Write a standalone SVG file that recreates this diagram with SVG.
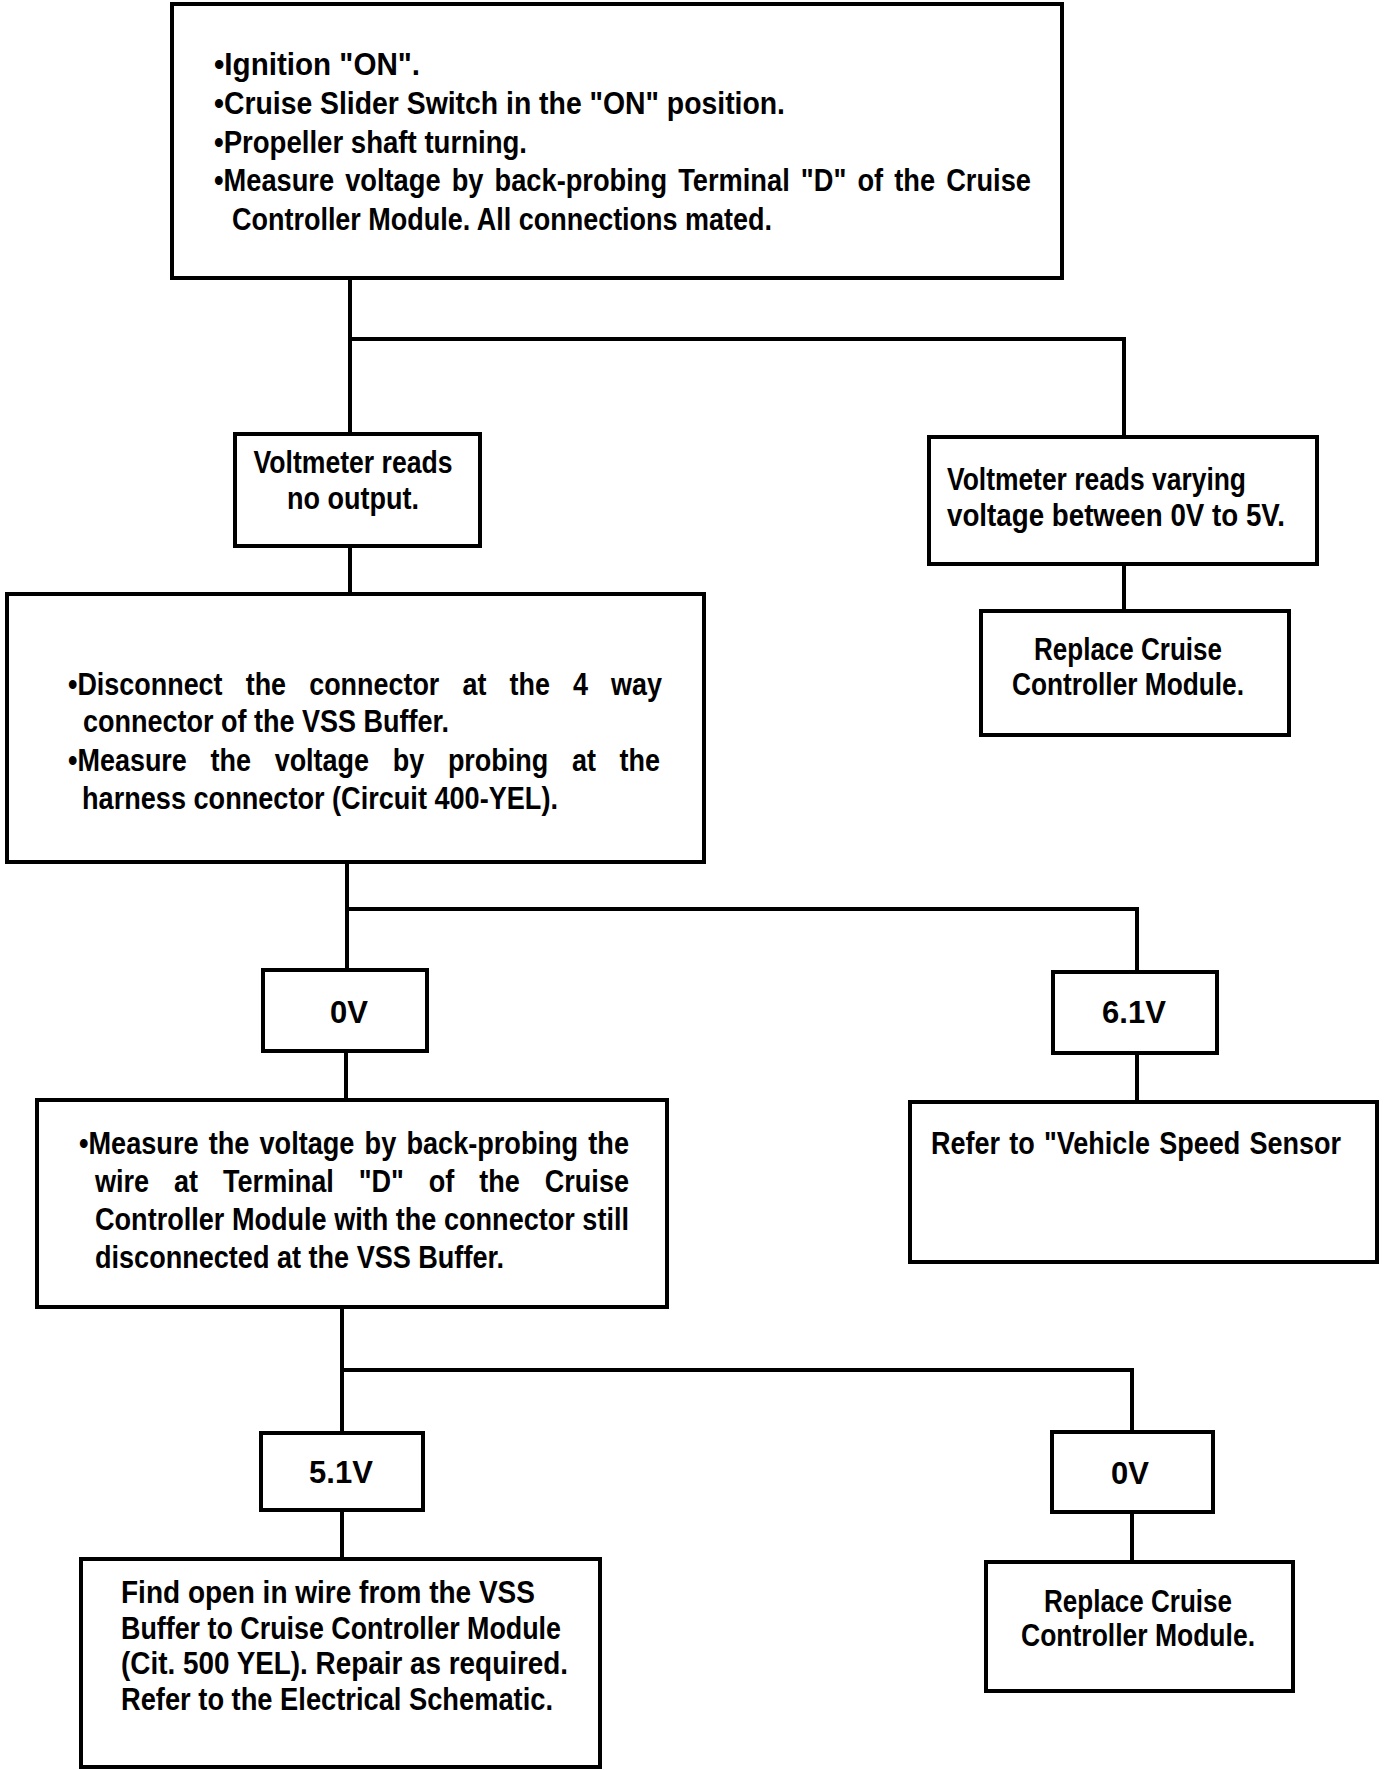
<svg xmlns="http://www.w3.org/2000/svg" width="1392" height="1770" viewBox="0 0 1392 1770">
<style>
.box{fill:#fff;stroke:#000;stroke-width:4}
.conn{fill:none;stroke:#000;stroke-width:4;stroke-linecap:square}
.t{font-family:"Liberation Sans",Arial,sans-serif;font-weight:bold;font-size:31px;fill:#000}
.c{text-anchor:middle}
</style>
<rect x="0" y="0" width="1392" height="1770" fill="#fff"/>
<g id="connectors">
<path class="conn" d="M350,278 V434 M350,339 H1124 V437"/>
<path class="conn" d="M1124,564 V611"/>
<path class="conn" d="M350,546 V594"/>
<path class="conn" d="M347,862 V970 M347,909 H1137 V972"/>
<path class="conn" d="M346,1051 V1100"/>
<path class="conn" d="M1137,1053 V1102"/>
<path class="conn" d="M342,1307 V1433 M342,1370 H1132 V1432"/>
<path class="conn" d="M342,1510 V1559"/>
<path class="conn" d="M1132,1512 V1562"/>
</g>
<g id="start">
<rect class="box" x="172" y="4" width="890" height="274"/>
<text class="t" x="214" y="75" textLength="206" lengthAdjust="spacingAndGlyphs">•Ignition "ON".</text>
<text class="t" x="214" y="114" textLength="571" lengthAdjust="spacingAndGlyphs">•Cruise Slider Switch in the "ON" position.</text>
<text class="t" x="214" y="153" textLength="313" lengthAdjust="spacingAndGlyphs">•Propeller shaft turning.</text>
<text class="t" x="214" y="191" word-spacing="4" textLength="817" lengthAdjust="spacingAndGlyphs">•Measure voltage by back-probing Terminal "D" of the Cruise</text>
<text class="t" x="232" y="230" textLength="540" lengthAdjust="spacingAndGlyphs">Controller Module. All connections mated.</text>
</g>
<g id="no-output">
<rect class="box" x="235" y="434" width="245" height="112"/>
<text class="t c" x="353" y="473" textLength="199" lengthAdjust="spacingAndGlyphs">Voltmeter reads</text>
<text class="t c" x="353" y="509" textLength="132" lengthAdjust="spacingAndGlyphs">no output.</text>
</g>
<g id="varying">
<rect class="box" x="929" y="437" width="388" height="127"/>
<text class="t" x="947" y="490" textLength="299" lengthAdjust="spacingAndGlyphs">Voltmeter reads varying</text>
<text class="t" x="947" y="526" textLength="338" lengthAdjust="spacingAndGlyphs">voltage between 0V to 5V.</text>
</g>
<g id="replace-1">
<rect class="box" x="981" y="611" width="308" height="124"/>
<text class="t c" x="1128" y="660" textLength="188" lengthAdjust="spacingAndGlyphs">Replace Cruise</text>
<text class="t c" x="1128" y="695" textLength="232" lengthAdjust="spacingAndGlyphs">Controller Module.</text>
</g>
<g id="disconnect">
<rect class="box" x="7" y="594" width="697" height="268"/>
<text class="t" x="68" y="695" word-spacing="18" textLength="594" lengthAdjust="spacingAndGlyphs">•Disconnect the connector at the 4 way</text>
<text class="t" x="83" y="732" textLength="366" lengthAdjust="spacingAndGlyphs">connector of the VSS Buffer.</text>
<text class="t" x="68" y="771" word-spacing="18.6" textLength="592" lengthAdjust="spacingAndGlyphs">•Measure the voltage by probing at the</text>
<text class="t" x="82" y="809" textLength="476" lengthAdjust="spacingAndGlyphs">harness connector (Circuit 400-YEL).</text>
</g>
<g id="zero-v-1">
<rect class="box" x="263" y="970" width="164" height="81"/>
<text class="t c" x="349" y="1023">0V</text>
</g>
<g id="six-v">
<rect class="box" x="1053" y="972" width="164" height="81"/>
<text class="t c" x="1134" y="1023">6.1V</text>
</g>
<g id="measure">
<rect class="box" x="37" y="1100" width="630" height="207"/>
<text class="t" x="79" y="1154" word-spacing="3" textLength="550" lengthAdjust="spacingAndGlyphs">•Measure the voltage by back-probing the</text>
<text class="t" x="95" y="1192" word-spacing="19.9" textLength="534" lengthAdjust="spacingAndGlyphs">wire at Terminal "D" of the Cruise</text>
<text class="t" x="95" y="1230" textLength="534" lengthAdjust="spacingAndGlyphs">Controller Module with the connector still</text>
<text class="t" x="95" y="1268" textLength="409" lengthAdjust="spacingAndGlyphs">disconnected at the VSS Buffer.</text>
</g>
<g id="refer">
<rect class="box" x="910" y="1102" width="467" height="160"/>
<text class="t" x="931" y="1154" word-spacing="2" textLength="410" lengthAdjust="spacingAndGlyphs">Refer to "Vehicle Speed Sensor</text>
</g>
<g id="five-v">
<rect class="box" x="261" y="1433" width="162" height="77"/>
<text class="t c" x="341" y="1483">5.1V</text>
</g>
<g id="zero-v-2">
<rect class="box" x="1052" y="1432" width="161" height="80"/>
<text class="t c" x="1130" y="1484">0V</text>
</g>
<g id="find-open">
<rect class="box" x="81" y="1559" width="519" height="208"/>
<text class="t" x="121" y="1603" textLength="414" lengthAdjust="spacingAndGlyphs">Find open in wire from the VSS</text>
<text class="t" x="121" y="1639" textLength="440" lengthAdjust="spacingAndGlyphs">Buffer to Cruise Controller Module</text>
<text class="t" x="121" y="1674" textLength="447" lengthAdjust="spacingAndGlyphs">(Cit. 500 YEL). Repair as required.</text>
<text class="t" x="121" y="1710" textLength="432" lengthAdjust="spacingAndGlyphs">Refer to the Electrical Schematic.</text>
</g>
<g id="replace-2">
<rect class="box" x="986" y="1562" width="307" height="129"/>
<text class="t c" x="1138" y="1612" textLength="188" lengthAdjust="spacingAndGlyphs">Replace Cruise</text>
<text class="t c" x="1138" y="1646" textLength="234" lengthAdjust="spacingAndGlyphs">Controller Module.</text>
</g>
</svg>
